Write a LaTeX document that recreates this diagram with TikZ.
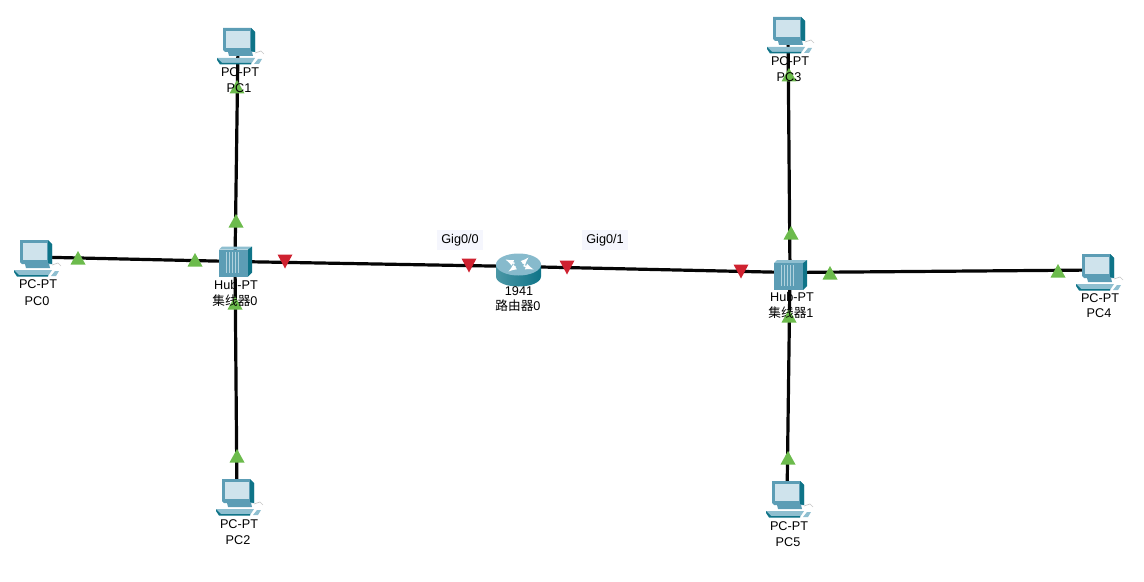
\documentclass[tikz,border=0pt]{standalone}
\usepackage{fontspec}
\setmainfont{Liberation Sans}
\newfontfamily\cjk{Noto Sans CJK SC}
\usetikzlibrary{shapes.geometric}
\definecolor{linkc}{HTML}{050505}
\definecolor{upc}{HTML}{6CBB4C}
\definecolor{downc}{HTML}{CF2230}
\definecolor{tealA}{HTML}{5C9DB5}
\definecolor{tealB}{HTML}{8FBFD0}
\definecolor{tealC}{HTML}{0F7488}
\definecolor{screenc}{HTML}{CFE3EC}
\definecolor{lblbg}{HTML}{F5F6FD}
\tikzset{
  x=0.75pt,y=-0.75pt,
  device/.style={inner sep=0pt,minimum size=1pt},
  link/.style={draw=linkc,line width=2.4pt},
  lbl/.style={inner sep=0pt,font=\fontsize{9.5}{11}\selectfont,text=black,align=center},
  portlbl/.style={lbl,fill=lblbg,inner xsep=3pt,inner ysep=3pt},
  up/.style={fill=upc},
  down/.style={fill=downc},
  pcicon/.pic={
    \fill[tealA] (-15,-18) -- (13,-18) -- (17,-14) -- (17,6) -- (-13,6) -- (-15,4) -- cycle;
    \fill[tealC] (13,-18) -- (17,-14) -- (17,6) -- (13,5) -- cycle;
    \fill[screenc] (-12,-15) rectangle (12,2);
    \fill[tealA] (-10,6) -- (14,6) -- (15,10) -- (-9,10) -- cycle;
    \fill[tealB] (-21,12) -- (-16,18) -- (13,18) -- (17,12) -- cycle;
    \fill[tealC] (-21,12) -- (-21,14) -- (-18,18.5) -- (13,18.5) -- (13,17) -- (-16,17) -- cycle;
    \fill[tealB] (16,18) -- (20,13) -- (24,13) -- (21,18) -- cycle;
    \draw[gray!45,line width=.5pt] (17,7) -- (23,5) -- (26,8);
  },
  hubicon/.pic={
    \fill[tealB] (-16,-12) -- (-13,-15) -- (17,-15) -- (13,-12) -- cycle;
    \fill[tealC] (13,-12) -- (17,-15) -- (17,11) -- (13,15) -- cycle;
    \fill[tealA] (-16,-12) rectangle (13,15);
    \foreach \i in {-9,-6,-3,0,3}{\fill[tealB!70!white] (\i,-10) rectangle ++(1.3,21);}
  },
  routericon/.pic={
    \shade[left color=tealC!75!white,middle color=white,right color=tealC]
      (-22.5,-2) -- (-22.5,10) .. controls (-22.5,16) and (-12,20) .. (0,20)
      .. controls (12,20) and (22.5,16) .. (22.5,10) -- (22.5,-2) -- cycle;
    \fill[tealB!85!tealA] (0,-2) ellipse[x radius=22.5,y radius=11];
    \draw[white,line width=1.1pt,-latex] (-4,-3) -- (-13,-7);
    \draw[white,line width=1.1pt,-latex] (4,-3) -- (10,-9);
    \draw[white,line width=1.1pt,-latex] (-3,0) -- (-10,5);
    \draw[white,line width=1.1pt,-latex] (5,-1) -- (15,3);
  },
}
\newcommand{\tup}[2]{\fill[up] (#1-7.5,#2+6.5) -- (#1,#2-7) -- (#1+7.5,#2+6.5) -- cycle;}
\newcommand{\tdown}[2]{\fill[down] (#1-7.5,#2-6.5) -- (#1+7.5,#2-6.5) -- (#1,#2+7.5) -- cycle;}
\begin{document}
\begin{tikzpicture}
\useasboundingbox (0,0) rectangle (1144,581);
% device anchors
\node[device] (pc0) at (35,257) {};
\node[device] (pc1) at (238,46) {};
\node[device] (pc2) at (237,497) {};
\node[device] (pc3) at (788,35) {};
\node[device] (pc4) at (1097,270) {};
\node[device] (pc5) at (787,499) {};
\node[device] (hub0) at (235,261.5) {};
\node[device] (hub1) at (790,272.5) {};
\node[device] (r0) at (518.5,266.5) {};
% links
\draw[link] (pc0.center) -- (hub0.center);
\draw[link] (pc1.center) -- (hub0.center);
\draw[link] (pc2.center) -- (hub0.center);
\draw[link] (hub0.center) -- (r0.center);
\draw[link] (r0.center) -- (hub1.center);
\draw[link] (pc3.center) -- (hub1.center);
\draw[link] (pc4.center) -- (hub1.center);
\draw[link] (pc5.center) -- (hub1.center);
% link-state triangles
\tup{78}{258} \tup{195}{260} \tup{236}{221} \tup{237}{87} \tup{237}{456} \tup{235}{303}
\tup{791}{233} \tup{830}{273} \tup{1058}{271} \tup{788}{458} \tup{789}{75} \tup{789}{316}
\tdown{285}{261} \tdown{469}{265} \tdown{567}{267} \tdown{741}{271}
% icons
\pic at (35,258) {pcicon};
\pic at (pc1) {pcicon};
\pic at (pc2) {pcicon};
\pic at (pc3) {pcicon};
\pic at (1097,272) {pcicon};
\pic at (pc5) {pcicon};
\pic at (hub0) {hubicon};
\pic at (790,275) {hubicon};
\pic at (r0) {routericon};
% labels
\node[lbl] (lpc1a) at (240,72) {PC-PT};
\node[lbl] (lpc1b) at (239,88) {PC1};
\node[lbl] (lpc3a) at (790,61) {PC-PT};
\node[lbl] (lpc3b) at (789,77) {PC3};
\node[lbl] (lpc0a) at (38,284) {PC-PT};
\node[lbl] (lpc0b) at (37,301) {PC0};
\node[lbl] (lpc2a) at (239,524) {PC-PT};
\node[lbl] (lpc2b) at (238,540) {PC2};
\node[lbl] (lpc4a) at (1100,298) {PC-PT};
\node[lbl] (lpc4b) at (1099,313) {PC4};
\node[lbl] (lpc5a) at (789,526) {PC-PT};
\node[lbl] (lpc5b) at (788,542) {PC5};
\node[lbl] (lh0a) at (236,285) {Hub-PT};
\node[lbl] (lh0b) at (235,301) {{\cjk 集线器}0};
\node[lbl] (lh1a) at (792,297) {Hub-PT};
\node[lbl] (lh1b) at (791,313) {{\cjk 集线器}1};
\node[lbl] (lr0a) at (519,291) {1941};
\node[lbl] (lr0b) at (518,306) {{\cjk 路由器}0};
\node[portlbl] (g00) at (460,240) {Gig0/0};
\node[portlbl] (g01) at (605,240) {Gig0/1};
\end{tikzpicture}
\end{document}
